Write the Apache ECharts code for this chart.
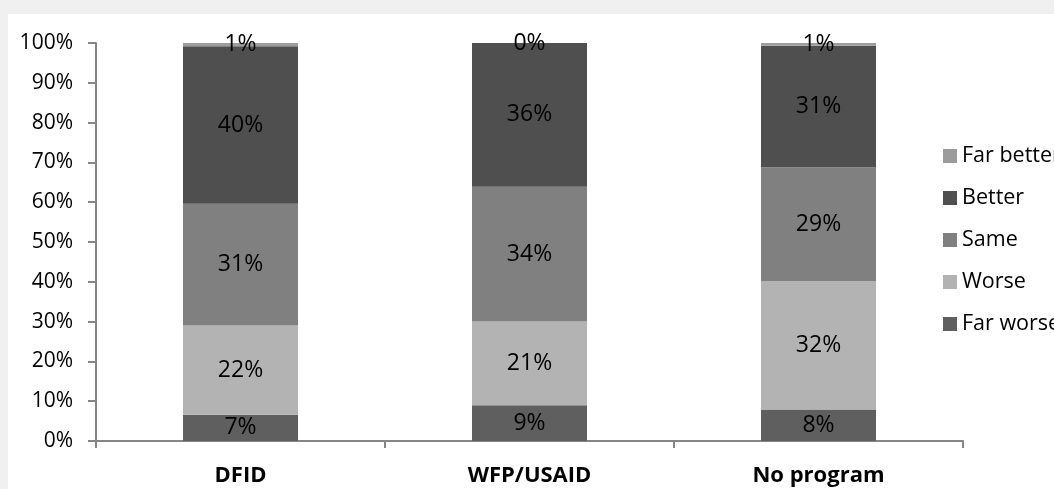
<!DOCTYPE html>
<html>
<head>
<meta charset="utf-8">
<script src="https://cdn.jsdelivr.net/npm/echarts@6/dist/echarts.min.js"></script>
<style>
  html, body { margin: 0; padding: 0; background: #f0f0f0; }
  #main { position: absolute; left: 8px; top: 14px; width: 1046px; height: 475px; background: #fff; }
</style>
</head>
<body>
<div id="main"></div>
<script>
// 类别和数据
var categories = ['DFID', 'WFP/USAID', 'No program'];
var farWorse = [6.6, 9.0, 7.9];
var worse = [22.4, 21.0, 32.3];
var same = [30.6, 33.9, 28.6];
var better = [39.6, 36.1, 30.5];
var farBetter = [0.8, 0, 0.7];
var yTicks = [0, 10, 20, 30, 40, 50, 60, 70, 80, 90, 100];

var font = 'Open Sans';
var axisColor = '#868686';

function makeSeries(name, data, color) {
  return {
    name: name,
    type: 'bar',
    stack: 'total',
    barWidth: 115,
    data: data,
    itemStyle: { color: color },
    label: {
      show: true,
      position: 'inside',
      color: '#000',
      fontFamily: font,
      fontSize: 23,
      formatter: function (p) { return Math.round(p.value) + '%'; }
    }
  };
}

var myChart = echarts.init(document.getElementById('main'));
var option = {
  animation: false,
  grid: { left: 88, right: 91, top: 29, bottom: 48 },
  legend: {
    orient: 'vertical',
    left: 930,
    top: 126,
    itemWidth: 14,
    itemHeight: 14,
    itemGap: 20,
    icon: 'rect',
    data: ['Far better', 'Better', 'Same', 'Worse', 'Far worse'],
    textStyle: { fontFamily: font, fontSize: 21.5, lineHeight: 20, color: '#000' }
  },
  xAxis: {
    type: 'category',
    data: categories,
    axisLine: { lineStyle: { color: axisColor, width: 2 } },
    axisTick: { show: true, length: 7, lineStyle: { color: axisColor, width: 2 } },
    axisLabel: { margin: 24, fontFamily: font, fontSize: 22, fontWeight: 'bold', color: '#000' }
  },
  yAxis: {
    type: 'value',
    min: yTicks[0],
    max: yTicks[yTicks.length - 1],
    interval: 10,
    splitLine: { show: false },
    axisLine: { show: true, lineStyle: { color: axisColor, width: 2 } },
    axisTick: { show: true, length: 8, lineStyle: { color: axisColor, width: 2 } },
    axisLabel: { margin: 23, fontFamily: font, fontSize: 21, color: '#000', formatter: '{value}%' }
  },
  series: [
    makeSeries('Far worse', farWorse, '#5f5f5f'),
    makeSeries('Worse', worse, '#b3b3b3'),
    makeSeries('Same', same, '#808080'),
    makeSeries('Better', better, '#4f4f4f'),
    makeSeries('Far better', farBetter, '#9c9c9c')
  ]
};
myChart.setOption(option, true);
</script>
</body>
</html>
